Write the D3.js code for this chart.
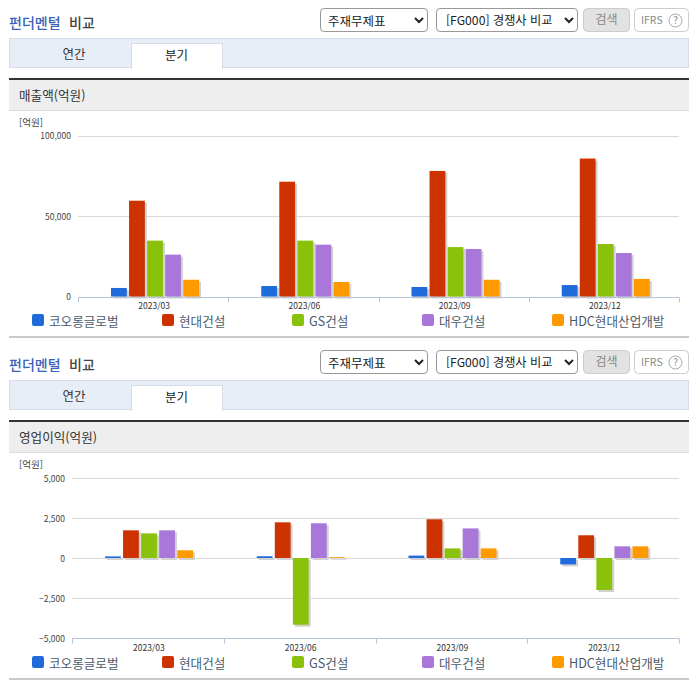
<!DOCTYPE html>
<html lang="ko"><head><meta charset="utf-8">
<script src="https://cdn.jsdelivr.net/npm/d3@7/dist/d3.min.js"></script>
<style>
html,body{margin:0;padding:0;background:#fff;width:696px;height:684px;overflow:hidden}
svg{position:absolute;left:0;top:0}
select{position:absolute;height:24px;font-family:"Noto Sans CJK KR";color:#222;background:#fff;border:1px solid #999;border-radius:4px}
</style></head><body>
<svg id="c" width="696" height="684"></svg>
<script>
const periods = ["2023/03","2023/06","2023/09","2023/12"];
const companies = ["코오롱글로벌","현대건설","GS건설","대우건설","HDC현대산업개발"];
const colors = ["#1f6bdc","#cc3300","#8ac10b","#a877d9","#ff9900"];
const revenue = [
  [5300,59500,34700,26000,10400],
  [6500,71300,34700,32200,9000],
  [5900,78000,30700,29500,10400],
  [7100,85700,32600,27000,10900]];
const profit = [
  [100,1730,1540,1730,480],
  [110,2230,-4170,2170,50],
  [150,2420,600,1850,600],
  [-400,1420,-2000,730,730]];
const revenueTicks = [0,50000,100000];
const profitTicks = [-5000,-2500,0,2500,5000];
const legendX = [32,162,292,422,552];

const font = '"Noto Sans CJK KR"';
const svg = d3.select("#c");
function txt(g,x,y,s,size,fill,anchor){
  return g.append("text").attr("x",x).attr("y",y).attr("font-family",font).attr("font-size",size)
    .attr("fill",fill).attr("text-anchor",anchor||"start").text(s);
}
function panel(offset,metric,data,ticks,domain,left,yTop,yBottom){
  const g = svg.append("g").attr("transform",`translate(0,${offset})`);
  txt(g,9,28,"펀더멘털",14,"#3a62b8").attr("font-weight",500);
  txt(g,69,28,"비교",14,"#444").attr("font-weight",500);
  // controls
  const sel = (x,w,opt,size,pad)=>d3.select("body").append("select")
    .style("left",x+"px").style("top",(offset+8)+"px").style("width",w+"px")
    .style("font-size",size+"px").style("padding","0 0 0 "+pad+"px")
    .append("option").text(opt);
  sel(320,108,"주재무제표",12.5,3); sel(436,142,"[FG000] 경쟁사 비교",12.2,5);
  g.append("rect").attr("x",583.5).attr("y",8.5).attr("width",46).attr("height",23).attr("rx",4).attr("fill","#e2e2e2").attr("stroke","#ccc");
  txt(g,606.5,24,"검색",12,"#888","middle");
  g.append("rect").attr("x",634.5).attr("y",8.5).attr("width",54).attr("height",23).attr("rx",4).attr("fill","#fff").attr("stroke","#ccc");
  txt(g,641,24,"IFRS",10.5,"#888");
  g.append("circle").attr("cx",675.5).attr("cy",20.5).attr("r",6.5).attr("fill","none").attr("stroke","#aaa");
  txt(g,675.5,24,"?",10,"#888","middle");
  // tabs
  g.append("rect").attr("x",9.5).attr("y",38.5).attr("width",679).attr("height",29).attr("fill","#e8eef8").attr("stroke","#d6dde8");
  g.append("rect").attr("x",131.5).attr("y",43.5).attr("width",91).attr("height",25).attr("fill","#fff").attr("stroke","#d6dde8");
  g.append("rect").attr("x",132).attr("y",66).attr("width",90).attr("height",3).attr("fill","#fff");
  txt(g,74,59,"연간",12.5,"#333","middle");
  txt(g,176.5,60,"분기",12.5,"#222","middle");
  // section header
  g.append("rect").attr("x",9).attr("y",80).attr("width",680).attr("height",30).attr("fill","#eeeeee");
  g.append("rect").attr("x",9).attr("y",78).attr("width",680).attr("height",2).attr("fill","#333");
  g.append("rect").attr("x",9).attr("y",110).attr("width",680).attr("height",1).attr("fill","#ddd");
  txt(g,19,100,metric,12.6,"#333");
  txt(g,19,126,"[억원]",9.5,"#444");
  // scales
  const right = 679, barInset = 33;
  const x0 = d3.scaleBand().domain(periods).range([left,right]);
  const x1 = d3.scaleBand().domain(companies).range([0,88]).paddingInner(0.125);
  const y = d3.scaleLinear().domain(domain).range([yBottom,yTop]);
  // grid
  g.append("g").selectAll("line").data(ticks).join("line")
    .attr("x1",left).attr("x2",right)
    .attr("y1",d=>Math.round(y(d))+.5).attr("y2",d=>Math.round(y(d))+.5)
    .attr("stroke","#d9d9d9");
  g.append("g").selectAll("text").data(ticks).join("text")
    .attr("x",left-7).attr("y",d=>y(d)+3.5).attr("text-anchor","end")
    .attr("font-family",font).attr("font-size",8.5).attr("fill","#444")
    .text(d=>d3.format(",")(d));
  // bars
  const groups = g.append("g").selectAll("g").data(data).join("g")
    .attr("transform",(d,i)=>`translate(${x0(periods[i])+barInset},0)`);
  const cells = d=>d.map((v,j)=>({v,j}));
  groups.selectAll("rect.s").data(cells).join("rect").attr("class","s")
    .attr("x",d=>x1(companies[d.j])+2)
    .attr("y",d=>Math.min(y(d.v),y(0))+2)
    .attr("width",x1.bandwidth())
    .attr("height",d=>Math.abs(y(d.v)-y(0)))
    .attr("fill","#d2d2d2");
  groups.selectAll("rect.b").data(cells).join("rect").attr("class","b")
    .attr("x",d=>x1(companies[d.j]))
    .attr("y",d=>Math.min(y(d.v),y(0)))
    .attr("width",x1.bandwidth())
    .attr("height",d=>Math.abs(y(d.v)-y(0)))
    .attr("fill",d=>colors[d.j]);
  // x axis
  const base = Math.round(yBottom)+.5;
  g.append("line").attr("x1",left).attr("x2",right).attr("y1",base).attr("y2",base).attr("stroke","#b8c6dc");
  g.append("g").selectAll("line").data(d3.range(5)).join("line")
    .attr("x1",i=>Math.round(left+i*x0.step())+.5).attr("x2",i=>Math.round(left+i*x0.step())+.5)
    .attr("y1",base).attr("y2",base+5).attr("stroke","#b8c6dc");
  g.append("g").selectAll("text").data(periods).join("text")
    .attr("x",d=>x0(d)+x0.bandwidth()/2+1).attr("y",309)
    .attr("text-anchor","middle").attr("font-family",font).attr("font-size",8.5).attr("fill","#333").text(d=>d);
  // legend
  const lg = g.append("g").selectAll("g").data(companies).join("g")
    .attr("transform",(d,i)=>`translate(${legendX[i]},0)`);
  lg.append("rect").attr("y",314).attr("width",12).attr("height",12).attr("rx",2).attr("fill",(d,i)=>colors[i]);
  lg.append("text").attr("x",17).attr("y",326).attr("font-family",font).attr("font-size",12.6).attr("fill","#4a5a6a").text(d=>d);
  g.append("rect").attr("x",9).attr("y",336).attr("width",680).attr("height",2).attr("fill","#c8c8c8");
}
panel(0,"매출액(억원)",revenue,revenueTicks,[0,100000],78,135.5,296.5);
panel(342,"영업이익(억원)",profit,profitTicks,[-5000,5000],72,136,296);
</script>
</body></html>
